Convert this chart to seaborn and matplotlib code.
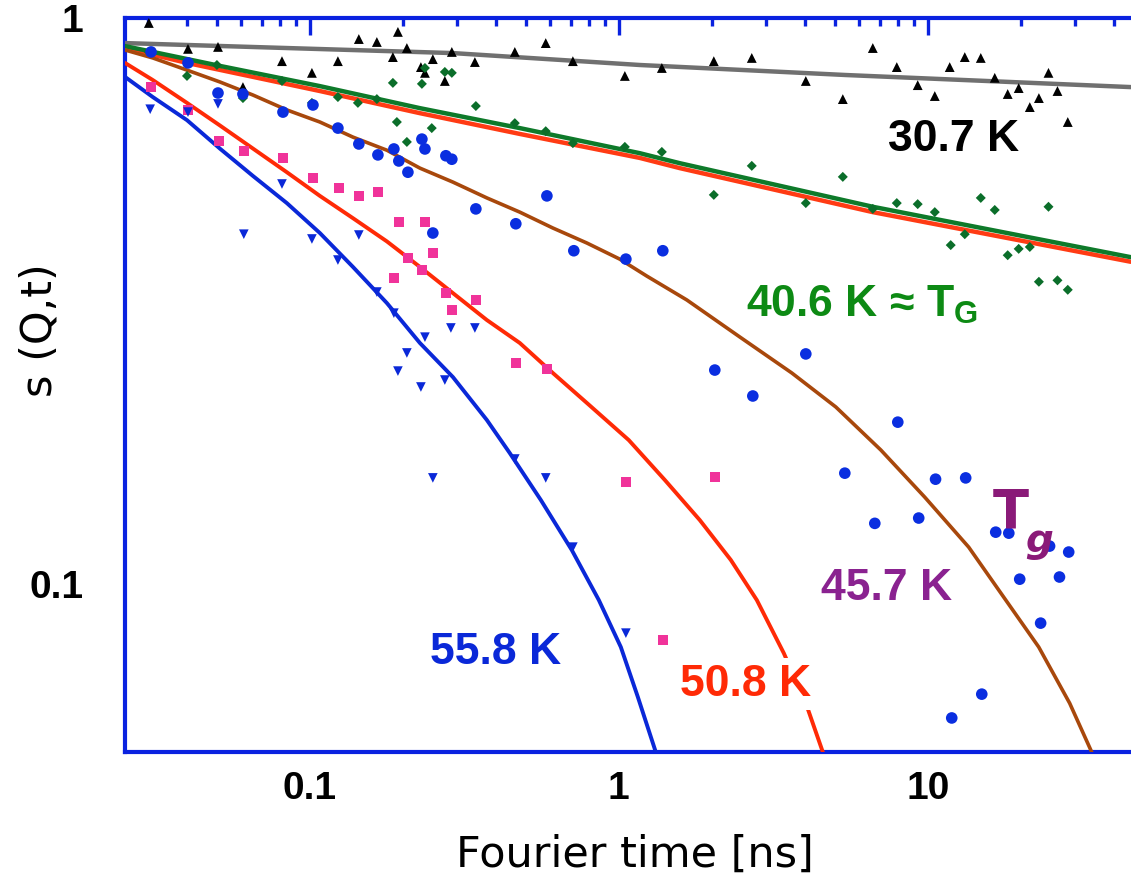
import numpy as np
import pandas as pd
import matplotlib
matplotlib.use("Agg")
import matplotlib.pyplot as plt
from matplotlib.ticker import LogLocator, FixedLocator, FixedFormatter, NullFormatter
import seaborn as sns

# ---------------- data ----------------
# fitted curves (Fourier time [ns], s(Q,t))
t_307 = [0.0252, 0.0842, 0.2903, 1.169, 5.43, 45.4]
s_307 = [0.903, 0.885, 0.867, 0.826, 0.793, 0.755]

t_406 = [0.0252, 0.0511, 0.1077, 0.227, 0.478, 1.169, 1.575, 6.64, 45.4]
s_406 = [0.892, 0.823, 0.758, 0.693, 0.639, 0.577, 0.554, 0.464, 0.378]

t_406b = [0.0252, 0.040, 0.1077, 0.227, 0.478, 1.169, 1.575, 6.64, 45.4]
s_406b = [0.885, 0.833, 0.743, 0.679, 0.624, 0.566, 0.543, 0.454, 0.371]

t_457 = [0.0252, 0.0310, 0.040, 0.0511, 0.0654, 0.0842, 0.1077, 0.1378, 0.1775, 0.227,
         0.2903, 0.3739, 0.478, 0.6114, 0.788, 1.007, 1.232, 1.66, 2.464, 3.63,
         5.04, 7.05, 9.78, 13.57, 17.62, 22.87, 28.8, 33.94, 36.0]
s_457 = [0.878, 0.850, 0.809, 0.771, 0.731, 0.688, 0.655, 0.616, 0.584, 0.543,
         0.513, 0.481, 0.454, 0.4256, 0.4004, 0.3750, 0.350, 0.3176, 0.2732, 0.236,
         0.2055, 0.1725, 0.1424, 0.1162, 0.0948, 0.0774, 0.0616, 0.0505, 0.046]

t_508 = [0.0252, 0.0310, 0.040, 0.0511, 0.0654, 0.0842, 0.1077, 0.1378, 0.1775, 0.227,
         0.2903, 0.3739, 0.478, 0.6114, 0.788, 1.077, 1.409, 1.829, 2.304, 2.797,
         3.42, 4.03, 4.574, 4.78]
s_508 = [0.833, 0.777, 0.708, 0.646, 0.588, 0.534, 0.485, 0.443, 0.403, 0.3633,
         0.3266, 0.2927, 0.2666, 0.236, 0.2089, 0.1796, 0.1527, 0.1297, 0.1103, 0.0937,
         0.0755, 0.0616, 0.0505, 0.046]

t_558 = [0.0252, 0.0310, 0.040, 0.0511, 0.0654, 0.0842, 0.1077, 0.1378, 0.1775, 0.227,
         0.2903, 0.3739, 0.4438, 0.5594, 0.7045, 0.8615, 1.015, 1.152, 1.317, 1.377]
s_558 = [0.787, 0.725, 0.660, 0.588, 0.526, 0.471, 0.417, 0.3633, 0.3136, 0.2666,
         0.2321, 0.1949, 0.1703, 0.1407, 0.1148, 0.0937, 0.0774, 0.0632, 0.0505, 0.046]

# measured points
t_tri = [0.0301, 0.0403, 0.0504, 0.0607, 0.0812, 0.1015, 0.1232, 0.144, 0.1647, 0.1927,
         0.206, 0.1856, 0.250, 0.2287, 0.2357, 0.288, 0.2734, 0.342, 0.4606, 0.580,
         0.710, 1.046, 1.378, 2.03, 2.694, 4.03, 5.31, 6.64, 7.94, 9.28,
         10.54, 11.78, 13.18, 14.85, 16.48, 18.15, 19.7, 21.4, 22.9, 24.6,
         26.3, 28.4]
s_tri = [0.980, 0.882, 0.889, 0.755, 0.839, 0.800, 0.839, 0.918, 0.907, 0.945,
         0.885, 0.853, 0.846, 0.819, 0.800, 0.871, 0.774, 0.836, 0.871, 0.903,
         0.839, 0.790, 0.816, 0.839, 0.850, 0.774, 0.719, 0.885, 0.819, 0.761,
         0.728, 0.819, 0.853, 0.850, 0.784, 0.734, 0.752, 0.696, 0.722, 0.800,
         0.743, 0.655]

t_dia = [0.0301, 0.040, 0.050, 0.0607, 0.0812, 0.1015, 0.1232, 0.143, 0.1647, 0.1856,
         0.1912, 0.206, 0.2304, 0.2357, 0.248, 0.2734, 0.288, 0.3445, 0.4606, 0.580,
         0.710, 1.046, 1.378, 2.03, 2.694, 4.03, 5.31, 6.64, 7.94, 9.28,
         10.54, 11.87, 13.18, 14.85, 16.48, 18.15, 19.7, 21.4, 24.6, 22.9,
         26.3, 28.4]
s_dia = [0.871, 0.790, 0.826, 0.722, 0.774, 0.708, 0.725, 0.708, 0.719, 0.768,
         0.655, 0.604, 0.765, 0.816, 0.639, 0.803, 0.800, 0.699, 0.652, 0.631,
         0.601, 0.592, 0.580, 0.487, 0.548, 0.471, 0.524, 0.460, 0.471, 0.469,
         0.454, 0.397, 0.415, 0.481, 0.458, 0.381, 0.391, 0.394, 0.464, 0.342,
         0.344, 0.331]

t_circ = [0.0306, 0.0403, 0.0504, 0.0607, 0.0818, 0.1023, 0.1232, 0.144, 0.166, 0.187,
          0.194, 0.2076, 0.2304, 0.2357, 0.2755, 0.288, 0.3445, 0.250, 0.464, 0.585,
          0.715, 1.054, 1.388, 2.045, 2.715, 4.03, 8.0, 5.39, 10.6, 13.27,
          6.74, 9.35, 16.6, 18.3, 24.8, 28.6, 19.85, 26.7, 23.2, 14.96,
          11.96]
s_circ = [0.871, 0.833, 0.737, 0.734, 0.682, 0.702, 0.639, 0.599, 0.573, 0.587,
          0.559, 0.534, 0.611, 0.587, 0.571, 0.563, 0.460, 0.417, 0.433, 0.485,
          0.388, 0.375, 0.388, 0.2388, 0.2149, 0.255, 0.1932, 0.157, 0.1532, 0.154,
          0.128, 0.1308, 0.1235, 0.123, 0.1167, 0.1139, 0.102, 0.1029, 0.0853, 0.0639,
          0.058]

t_sq = [0.0306, 0.0403, 0.0508, 0.0611, 0.0818, 0.1023, 0.1241, 0.144, 0.166, 0.194,
        0.2357, 0.250, 0.2076, 0.2304, 0.187, 0.2755, 0.3445, 0.288, 0.464, 0.585,
        1.054, 2.045, 1.388]
s_sq = [0.755, 0.688, 0.606, 0.582, 0.566, 0.522, 0.501, 0.485, 0.493, 0.436,
        0.436, 0.3845, 0.3767, 0.3587, 0.347, 0.3266, 0.3176, 0.305, 0.2458, 0.2398,
        0.1514, 0.1545, 0.0796]

t_dtri = [0.0304, 0.0403, 0.0504, 0.0812, 0.0611, 0.1015, 0.1232, 0.144, 0.1647, 0.187,
          0.2357, 0.286, 0.342, 0.206, 0.1927, 0.2287, 0.2734, 0.250, 0.4606, 0.580,
          0.710, 1.054]
s_dtri = [0.690, 0.682, 0.705, 0.509, 0.415, 0.407, 0.3736, 0.4136, 0.328, 0.301,
          0.273, 0.2834, 0.2834, 0.256, 0.2378, 0.2229, 0.2293, 0.154, 0.1663, 0.154,
          0.1162, 0.0819]

x_ticks = [0.1, 1, 10]
x_ticklabels = ["0.1", "1", "10"]
y_ticks = [0.1, 1]
y_ticklabels = ["0.1", "1"]

# ---------------- styling ----------------
sns.set_theme(style="white")
plt.rcParams['font.family'] = ['Liberation Sans', 'DejaVu Sans']

AXBLUE = "#0a22e0"
fig = plt.figure(figsize=(11.31, 8.80), dpi=100)
ax = fig.add_axes([125/1131, 1-752/880, 1-125/1131, (752-18)/880])

lines = [
    (t_307, s_307, "#707070", 3.2),
    (t_406b, s_406b, "#ff3b14", 3.2),
    (t_406, s_406, "#0e7a2a", 3.2),
    (t_457, s_457, "#a8480c", 2.6),
    (t_508, s_508, "#ff2a06", 2.8),
    (t_558, s_558, "#0a28d8", 2.8),
]
for tt, ss, col, lw in lines:
    sns.lineplot(x=tt, y=ss, ax=ax, color=col, lw=lw, sort=False,
                 estimator=None, zorder=3)

pts = [
    (t_tri, s_tri, "^", "black", 50),
    (t_dia, s_dia, "D", "#0b6e2a", 26),
    (t_circ, s_circ, "o", "#0a2ee0", 70),
    (t_sq, s_sq, "s", "#f0339a", 58),
    (t_dtri, s_dtri, "v", "#0a28d8", 48),
]
for tt, ss, mk, col, sz in pts:
    sns.scatterplot(x=tt, y=ss, ax=ax, marker=mk, color=col, s=sz,
                    edgecolor="none", linewidth=0, zorder=4)

ax.set_xscale("log")
ax.set_yscale("log")
ax.set_xlim(0.0252, 45.5)
ax.set_ylim(0.0505, 1.0)

ax.xaxis.set_major_locator(FixedLocator(x_ticks))
ax.xaxis.set_major_formatter(FixedFormatter(x_ticklabels))
ax.xaxis.set_minor_locator(LogLocator(base=10, subs=np.arange(2, 10)))
ax.xaxis.set_minor_formatter(NullFormatter())
ax.yaxis.set_major_locator(FixedLocator(y_ticks))
ax.yaxis.set_major_formatter(FixedFormatter(y_ticklabels))
ax.yaxis.set_minor_locator(LogLocator(base=10, subs=np.arange(2, 10)))
ax.yaxis.set_minor_formatter(NullFormatter())

for side in ["left", "bottom", "top"]:
    ax.spines[side].set_color(AXBLUE)
    ax.spines[side].set_linewidth(3)
ax.spines["right"].set_visible(False)

ax.tick_params(which="both", direction="in", top=True, right=False,
               color=AXBLUE, width=2.4)
ax.tick_params(which="major", length=12)
ax.tick_params(which="minor", length=6)
ax.tick_params(axis="x", which="major", labelsize=28, pad=14)
ax.tick_params(axis="y", which="major", labelsize=28, pad=30)
for lab in ax.get_xticklabels() + ax.get_yticklabels():
    lab.set_fontweight("bold")
    lab.set_color("black")

ax.set_xlabel("Fourier time [ns]", fontsize=31, family="DejaVu Sans",
              color="black", va="center")
ax.xaxis.set_label_coords(0.507, -0.140)
ax.set_ylabel("s (Q,t)", fontsize=31, family="DejaVu Sans",
              color="black", va="center")
ax.yaxis.set_label_coords(-0.0845, 0.575)

box = dict(boxstyle="square,pad=0.12", fc="white", ec="none")
lab_kw = dict(transform=ax.transAxes, ha="center", va="center",
              fontsize=32, fontweight="bold", bbox=box, zorder=6)
ax.text(0.824, 0.834, "30.7 K", color="black", **lab_kw)
ax.text(0.733, 0.609, "40.6 K \u2248 T$_\\mathregular{G}$", color="#0d8a14", **lab_kw)
ax.text(0.757, 0.2234, "45.7 K", color="#8a2290", **lab_kw)
ax.text(0.617, 0.0926, "50.8 K", color="#ff2a06", **lab_kw)
ax.text(0.368, 0.135, "55.8 K", color="#0a28d8", **lab_kw)

ax.text(0.880, 0.326, "T", transform=ax.transAxes, ha="center", va="center",
        fontsize=38, fontweight="bold", color="#8a1a78", family="DejaVu Sans", zorder=6)
ax.text(0.909, 0.287, "g", transform=ax.transAxes, ha="center", va="center",
        fontsize=28, fontweight="bold", style="italic", color="#8a1a78",
        family="DejaVu Sans", zorder=6)

fig.savefig("out.png", dpi=100)
